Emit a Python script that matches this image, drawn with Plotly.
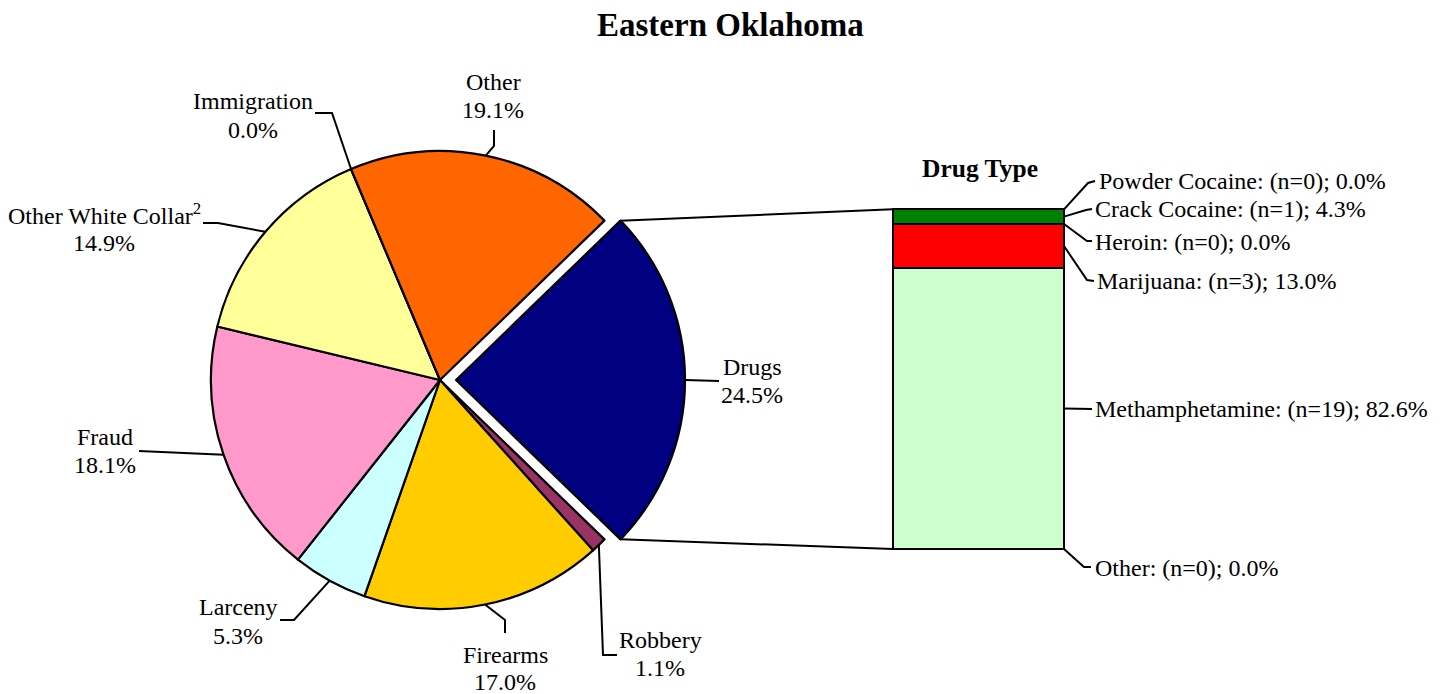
import math
import plotly.graph_objects as go

# ---------------- data ----------------
pie_labels = ["Drugs", "Robbery", "Firearms", "Larceny", "Fraud",
              "Other White Collar", "Immigration", "Other"]
pie_values = [24.5, 1.1, 17.0, 5.3, 18.1, 14.9, 0.0, 19.1]
pie_colors = ["#000080", "#993366", "#FFCC00", "#CCFFFF", "#FF99CC",
              "#FFFF99", "#C0C0C0", "#FF6600"]

drug_types = ["Powder Cocaine", "Crack Cocaine", "Heroin", "Marijuana",
              "Methamphetamine", "Other"]
drug_counts = [0, 1, 0, 3, 19, 0]
drug_pcts = [0.0, 4.3, 0.0, 13.0, 82.6, 0.0]
drug_colors = ["#008000", "#008000", "#FF0000", "#FF0000", "#CCFFCC", "#CCFFCC"]

title_text = "Eastern Oklahoma"
bar_title = "Drug Type"

# ---------------- layout geometry (pixels) ----------------
W, H = 1442, 694
FONT = "Liberation Serif"
PIE_CX, PIE_CY, PIE_R = 440, 380, 229
PULL = 0.07
BAR_X0, BAR_X1, BAR_TOP, BAR_BOT = 893, 1064, 209, 549
PAD = 4  # extra pixels around the bar subplot so its outline is not clipped


def px(x):
    return x / W


def py(y):
    return 1 - y / H


# pie domain so that radius = PIE_R after plotly shrinks for pull
half = PIE_R * (1 + PULL)
pie_domain_x = [px(PIE_CX - half), px(PIE_CX + half)]
pie_domain_y = [py(PIE_CY + half), py(PIE_CY - half)]

total = sum(pie_values)
rotation = 90 - 360 * pie_values[0] / total / 2  # centre "Drugs" on the east

# angles (clockwise from north) of each slice
starts, mids, ends = [], [], []
a = rotation
for v in pie_values:
    span = 360 * v / total
    starts.append(a)
    mids.append(a + span / 2)
    ends.append(a + span)
    a += span


def edge_point(angle, cx=PIE_CX, cy=PIE_CY, r=PIE_R):
    t = math.radians(angle)
    return cx + r * math.sin(t), cy - r * math.cos(t)


fig = go.Figure()

fig.add_trace(go.Pie(
    labels=pie_labels, values=pie_values, sort=False, direction="clockwise",
    rotation=rotation, pull=[PULL] + [0] * (len(pie_values) - 1),
    marker=dict(colors=pie_colors, line=dict(color="black", width=2.2)),
    textinfo="none", hoverinfo="label+percent", showlegend=False,
    domain=dict(x=pie_domain_x, y=pie_domain_y),
))

# stacked bar (bottom to top)
order = list(range(len(drug_types)))[::-1]
for i in order:
    fig.add_trace(go.Bar(
        x=["Drugs"], y=[drug_pcts[i]], width=[1],
        marker=dict(color=drug_colors[i], line=dict(color="black", width=2.2)),
        name=drug_types[i], showlegend=False, xaxis="x2", yaxis="y2",
        cliponaxis=False,
        hovertemplate=f"{drug_types[i]}: %{{y:.1f}}%<extra></extra>",
    ))

shapes = []
annotations = []


def line_path(points):
    d = "M " + " L ".join(f"{px(x):.5f},{py(y):.5f}" for x, y in points)
    return dict(type="path", path=d, xref="paper", yref="paper",
                line=dict(color="black", width=2))


def label(x, y, text, size=24, bold=False, xanchor="center"):
    if bold:
        text = f"<b>{text}</b>"
    annotations.append(dict(
        x=px(x), y=py(y), xref="paper", yref="paper", text=text,
        showarrow=False, xanchor=xanchor, yanchor="middle",
        font=dict(family=FONT, size=size, color="black")))


# pie labels: (text x, line1 y, line2 y, elbow points after the edge point)
pie_label_layout = {
    "Drugs": (752, 367, 395, [(719, 381)]),
    "Robbery": (660, 640, 668, [(603, 655), (617, 655)]),
    "Firearms": (505, 655, 682, [(505, 620), (505, 633)]),
    "Larceny": (238, 607, 636, [(294, 620), (280, 620)]),
    "Fraud": (105, 437, 465, [(139, 451)]),
    "Other White Collar": (104, 214, 243, [(218, 223), (203, 223)]),
    "Immigration": (253, 101, 130, [(332, 113), (315, 113)]),
    "Other": (493, 82, 110, [(494, 146), (494, 130)]),
}
pie_label_text = {"Other White Collar": "Other White Collar<sup>2</sup>"}

off = PIE_R * PULL
dcx = PIE_CX + off * math.sin(math.radians(mids[0]))
dcy = PIE_CY - off * math.cos(math.radians(mids[0]))

for i, name in enumerate(pie_labels):
    tx, y1, y2, elbow = pie_label_layout[name]
    if i == 0:
        start = edge_point(mids[i], dcx, dcy)
    else:
        start = edge_point(mids[i])
    shapes.append(line_path([start] + elbow))
    label(tx, y1, pie_label_text.get(name, name))
    pct = 100 * pie_values[i] / total
    label(tx, y2, f"{pct:.1f}%")

# connector lines from exploded drugs slice to the bar
tip_top = edge_point(starts[0], dcx, dcy)
tip_bot = edge_point(ends[0], dcx, dcy)
bar_total = sum(drug_pcts)


def bar_y(v):
    return BAR_BOT - (BAR_BOT - BAR_TOP) * v / 100.0


shapes.append(line_path([tip_top, (BAR_X0, bar_y(bar_total))]))
shapes.append(line_path([tip_bot, (BAR_X0, bar_y(0))]))

# bar labels
bar_label_layout = {
    "Powder Cocaine": (1097, 181, [(1088, 183), (1095, 181)]),
    "Crack Cocaine": (1093, 209, [(1086, 210), (1092, 209)]),
    "Heroin": (1093, 242, [(1087, 241), (1092, 241)]),
    "Marijuana": (1095, 281, [(1087, 280), (1094, 281)]),
    "Methamphetamine": (1093, 409, [(1092, 409)]),
    "Other": (1093, 568, [(1084, 567), (1091, 567)]),
}
cum = 0.0
mid_vals = []
for v in drug_pcts[::-1]:
    mid_vals.append(cum + v / 2)
    cum += v
mid_vals = mid_vals[::-1]

for i, name in enumerate(drug_types):
    tx, ty, elbow = bar_label_layout[name]
    start = (BAR_X1, bar_y(mid_vals[i]))
    shapes.append(line_path([start] + elbow))
    label(tx, ty, f"{name}: (n={drug_counts[i]}); {drug_pcts[i]:.1f}%",
          xanchor="left")

label(730, 25, title_text, size=33, bold=True)
label(980, 168, bar_title, size=25.5, bold=True)

# bar subplot: padded domain with matching padded ranges
bw = BAR_X1 - BAR_X0
bh = BAR_BOT - BAR_TOP
xr = [-0.5 - PAD / bw, 0.5 + PAD / bw]
yr = [-100 * PAD / bh, 100 + 100 * PAD / bh]

fig.update_layout(
    width=W, height=H,
    margin=dict(l=0, r=0, t=0, b=0),
    paper_bgcolor="white", plot_bgcolor="rgba(0,0,0,0)",
    barmode="stack", bargap=0,
    xaxis2=dict(domain=[px(BAR_X0 - PAD), px(BAR_X1 + PAD)], range=xr,
                visible=False, fixedrange=True, anchor="y2"),
    yaxis2=dict(domain=[py(BAR_BOT + PAD), py(BAR_TOP - PAD)], range=yr,
                visible=False, fixedrange=True, anchor="x2"),
    shapes=shapes, annotations=annotations,
    font=dict(family=FONT, color="black"),
)

fig.write_html(
    "out.html",
    config={"displayModeBar": False},
    post_script="document.body.style.margin='0';document.body.style.overflow='hidden';",
)
